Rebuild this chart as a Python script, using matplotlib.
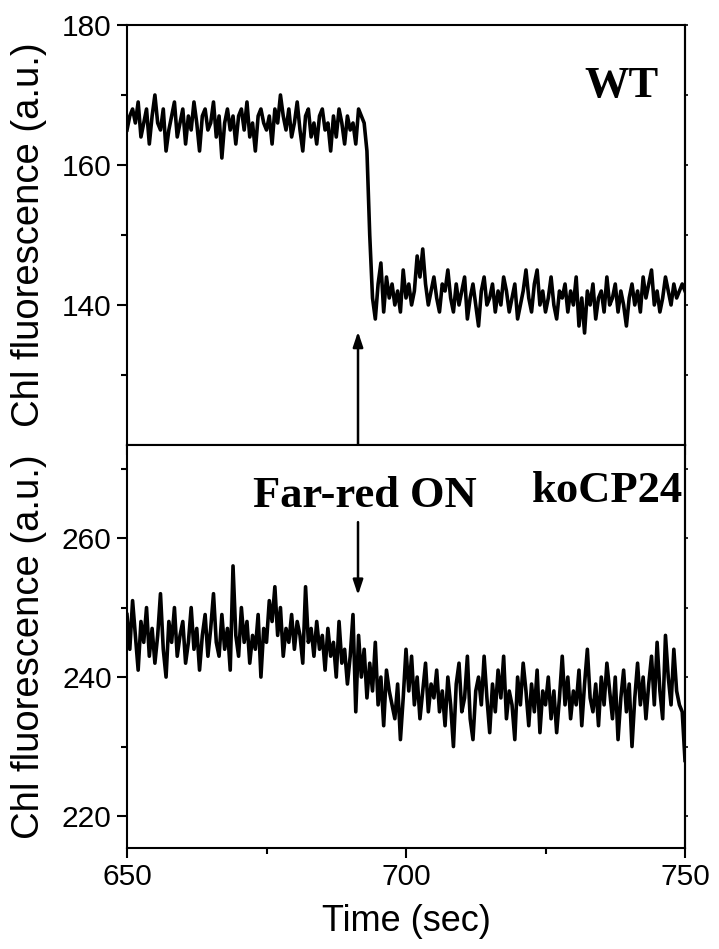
import numpy as np
import matplotlib
matplotlib.use("Agg")
import matplotlib.pyplot as plt

# WT trace, sampled every 0.5 s from 650 to 750 s
wt_pre = [
    165, 167, 168, 166, 169, 164, 166, 168, 163, 167,
    170, 166, 165, 168, 162, 165, 167, 169, 164, 166,
    168, 163, 167, 165, 169, 166, 162, 167, 168, 165,
    166, 169, 164, 167, 161, 166, 168, 165, 167, 163,
    167, 168, 165, 169, 164, 166, 162, 167, 168, 166,
    165, 167, 163, 168, 166, 170, 167, 165, 168, 164,
    166, 169, 165, 162, 167, 168, 164, 166, 163, 167,
    168, 165, 166, 162, 167, 164, 168, 166, 163, 167,
    165, 166, 163, 168, 167, 166,
]
wt_post = [
    162, 150, 141, 138, 143, 146, 139, 144, 141, 143,
    140, 142, 139, 145, 141, 143, 140, 142, 147, 144,
    148, 143, 140, 142, 144, 141, 139, 143, 142, 145,
    141, 139, 143, 140, 142, 144, 138, 141, 143, 140,
    137, 142, 144, 140, 141, 143, 139, 142, 140, 144,
    142, 139, 141, 143, 138, 140, 142, 145, 141, 139,
    143, 145, 140, 142, 139, 141, 144, 140, 138, 142,
    141, 143, 139, 142, 140, 144, 137, 141, 136, 142,
    140, 143, 138, 141, 142, 139, 144, 140, 141, 143,
    139, 142, 140, 137, 141, 143, 140, 142, 139, 144,
    141, 143, 145, 140, 142, 139, 141, 144, 142, 140,
    143, 141, 142, 143, 142,
]
wt = wt_pre + wt_post

# koCP24 trace, same sampling
ko_pre = [
    249, 244, 251, 246, 241, 248, 245, 250, 243, 247,
    242, 246, 252, 244, 240, 248, 245, 250, 243, 246,
    248, 242, 245, 250, 244, 247, 241, 246, 249, 243,
    247, 252, 245, 243, 249, 244, 247, 241, 256, 246,
    243, 250, 245, 248, 242, 246, 244, 249, 240, 247,
    245, 251, 248, 253, 246, 250, 243, 247, 245, 249,
    244, 248, 246, 242, 253, 245, 247, 243, 248, 244,
    246, 241, 247, 243, 245, 240, 248, 242, 244, 239,
]
ko_post = [
    243, 249, 235, 246, 240, 244, 237, 242, 238, 245,
    236, 240, 233, 241, 238, 236, 234, 239, 231, 237,
    244, 238, 243, 236, 240, 234, 238, 242, 235, 239,
    237, 241, 235, 238, 233, 240, 236, 230, 239, 242,
    235, 237, 243, 234, 231, 238, 240, 236, 243, 237,
    232, 239, 235, 241, 237, 243, 234, 238, 236, 231,
    240, 236, 242, 238, 233, 239, 235, 241, 232, 238,
    236, 240, 234, 238, 232, 237, 243, 236, 240, 234,
    238, 236, 241, 233, 239, 244, 237, 235, 239, 233,
    240, 236, 242, 238, 234, 240, 231, 237, 241, 235,
    239, 230, 237, 242, 236, 240, 234, 239, 243, 236,
    245, 238, 234, 246, 240, 236, 244, 238, 236, 235, 228,
]
ko = ko_pre + ko_post

t = np.linspace(650, 750, len(wt))
t_on = 691.4

plt.rcParams['font.family'] = ['Liberation Sans', 'DejaVu Sans']

fig = plt.figure(figsize=(7.19, 9.49), dpi=100)
ax1 = fig.add_axes([127/719, 1-445/949, 558/719, 420/949])
ax2 = fig.add_axes([127/719, 1-848/949, 558/719, 403/949])

for ax in (ax1, ax2):
    for s in ax.spines.values():
        s.set_linewidth(1.5)
    ax.set_xlim(650, 750)
    ax.set_xticks([650, 700, 750])
    ax.set_xticks([675, 725], minor=True)
    ax.tick_params(which='major', direction='out', length=7, width=1.5,
                   labelsize=21.5, pad=4)
    ax.tick_params(which='minor', direction='out', length=4, width=1.5)
    ax.set_ylabel('Chl fluorescence (a.u.)', fontsize=27.5)
    ax.yaxis.set_label_coords(-0.143, 0.5)

ax1.plot(t, wt, color='black', lw=2.6)
ax1.set_ylim(120, 180)
ax1.set_yticks([140, 160, 180])
ax1.set_yticks([130, 150, 170], minor=True)
ax1.tick_params(labelbottom=False)

ax2.plot(t, ko, color='black', lw=2.6)
ax2.set_ylim(215.4, 273.4)
ax2.set_yticks([220, 240, 260])
ax2.set_yticks([230, 250, 270], minor=True)
ax2.set_xlabel('Time (sec)', fontsize=26)
ax2.xaxis.set_label_coords(0.5, -0.14)

for ax in (ax1, ax2):
    sec = ax.secondary_yaxis('right')
    sec.set_yticks(ax.get_yticks())
    sec.set_yticks(ax.get_yticks(minor=True), minor=True)
    sec.tick_params(which='both', direction='out', length=2, width=1.2,
                    labelright=False)
    sec.spines['right'].set_linewidth(1.5)

arrow = dict(arrowstyle='-|>,head_length=0.9,head_width=0.3', color='black',
             lw=1.8, shrinkA=0, shrinkB=0)
ax1.annotate('', xy=(t_on, 136.2), xytext=(t_on, 120), arrowprops=arrow)
ax2.annotate('', xy=(t_on, 251.8), xytext=(t_on, 262.3), arrowprops=arrow)

serif = dict(family='Liberation Serif', fontweight='bold', fontsize=32)
ax1.text(745.2, 169.7, 'WT', ha='right', va='baseline', **serif)
ax2.text(749.6, 265.2, 'koCP24', ha='right', va='baseline', **serif)
ax2.text(672.6, 264.5, 'Far-red ON', ha='left', va='baseline', **serif)

fig.savefig('out.png', dpi=100)
